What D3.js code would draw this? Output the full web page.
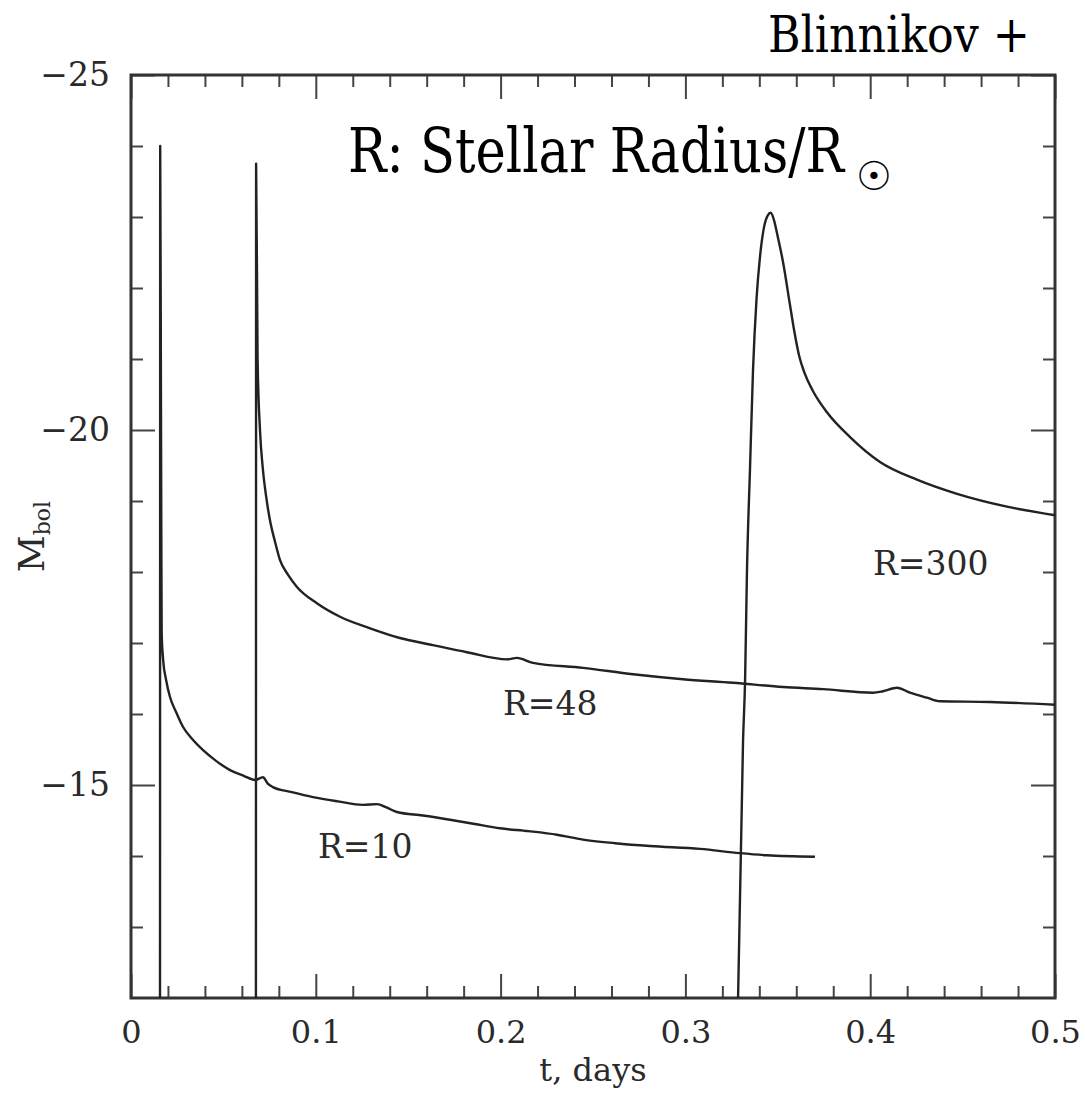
<!DOCTYPE html>
<html>
<head>
<meta charset="utf-8">
<script src="https://cdn.jsdelivr.net/npm/d3@7"></script>
<style>
  html, body { margin: 0; padding: 0; background: #fff; }
  svg { display: block; }
</style>
</head>
<body>
<svg id="chart" width="1085" height="1094"></svg>
<script>
// ---- Data (t in days, M_bol) ----
const seriesR10 = [
  [0.0157, -12.0], [0.0158, -24.0], [0.0162, -20.5], [0.0164, -18.6],
  [0.0166, -17.14], [0.0174, -16.76], [0.0190, -16.48], [0.0211, -16.24],
  [0.0245, -16.02], [0.0281, -15.82], [0.0330, -15.65], [0.0390, -15.49],
  [0.0460, -15.34], [0.0536, -15.21], [0.0610, -15.13], [0.0671, -15.07],
  [0.0714, -15.11], [0.0740, -15.02], [0.0768, -14.97], [0.0870, -14.90],
  [0.0985, -14.83], [0.1120, -14.77], [0.1255, -14.72], [0.1331, -14.73],
  [0.1385, -14.68], [0.1439, -14.62], [0.1580, -14.57], [0.1726, -14.51],
  [0.1860, -14.45], [0.1997, -14.39], [0.2150, -14.35], [0.2305, -14.30],
  [0.2446, -14.23], [0.2620, -14.18], [0.2808, -14.14], [0.3079, -14.10],
  [0.3295, -14.04], [0.3442, -14.01], [0.3701, -13.99]
];
const seriesR48 = [
  [0.0676, -12.0], [0.0677, -23.75], [0.0685, -21.0], [0.0698, -20.0],
  [0.0714, -19.44], [0.0732, -19.05], [0.0752, -18.73], [0.0780, -18.42],
  [0.0806, -18.17], [0.0850, -17.96], [0.0898, -17.79], [0.1006, -17.56],
  [0.1131, -17.37], [0.1290, -17.21], [0.1455, -17.07], [0.1634, -16.97],
  [0.1818, -16.87], [0.2035, -16.77], [0.2089, -16.79], [0.2175, -16.72],
  [0.2446, -16.65], [0.2717, -16.56], [0.2987, -16.49], [0.3258, -16.44],
  [0.3528, -16.38], [0.3745, -16.35], [0.4015, -16.30], [0.4069, -16.32],
  [0.4145, -16.37], [0.4215, -16.30], [0.4307, -16.23], [0.4378, -16.18],
  [0.4648, -16.17], [0.5000, -16.13]
];
const seriesR300 = [
  [0.3285, -12.0], [0.3312, -15.63], [0.3323, -16.48], [0.3333, -17.99],
  [0.3350, -19.49], [0.3366, -20.85], [0.3385, -21.85], [0.3404, -22.45],
  [0.3425, -22.85], [0.3445, -23.02], [0.3462, -23.06], [0.3480, -22.95],
  [0.3500, -22.72], [0.3528, -22.37], [0.3566, -21.76], [0.3590, -21.38],
  [0.3615, -21.05], [0.3645, -20.80], [0.3690, -20.55], [0.3766, -20.25],
  [0.3891, -19.90], [0.4053, -19.55], [0.4253, -19.30], [0.4470, -19.10],
  [0.4740, -18.92], [0.5000, -18.80]
];
const curveLabels = ["R=10", "R=48", "R=300"];
const labelPos = [[0.1012, -13.97], [0.2013, -15.99], [0.4015, -17.96]];

const xMajorTicks = [0, 0.1, 0.2, 0.3, 0.4, 0.5];
const xTickLabels = ["0", "0.1", "0.2", "0.3", "0.4", "0.5"];
const xMinorTicks = [0.02,0.04,0.06,0.08,0.12,0.14,0.16,0.18,0.22,0.24,0.26,0.28,0.32,0.34,0.36,0.38,0.42,0.44,0.46,0.48];
const yMajorTicks = [-25, -20, -15];
const yTickLabels = ["\u221225", "\u221220", "\u221215"];
const yMinorTicks = [-24,-23,-22,-21,-19,-18,-17,-16,-14,-13];

const titleText = "R: Stellar Radius/R";
const titleSub = "\u2609";
const creditText = "Blinnikov +";
const xTitle = "t, days";
const yTitleMain = "M";
const yTitleSub = "bol";

// ---- Layout ----
const svg = d3.select("#chart");
const L = 131, R = 1055, T = 75, B = 998;
const x = d3.scaleLinear().domain([0, 0.5]).range([L, R]);
const y = d3.scaleLinear().domain([-12, -25]).range([B, T]);

const axisFont = "'DejaVu Serif', serif";
const ink = "#2a2a2a";

// Bottom axis (major with labels)
const gB = svg.append("g").attr("transform", `translate(0,${B})`)
  .call(d3.axisBottom(x).tickValues(xMajorTicks).tickSize(-24).tickPadding(22)
    .tickFormat((d, i) => xTickLabels[i]));
gB.select(".domain").remove();
gB.selectAll("text").attr("font-family", axisFont).attr("font-size", 32).attr("fill", ink);
svg.append("g").attr("transform", `translate(0,${B})`)
  .call(d3.axisBottom(x).tickValues(xMinorTicks).tickSize(-12).tickFormat(""))
  .select(".domain").remove();

// Top axis ticks
const gT = svg.append("g").attr("transform", `translate(0,${T})`)
  .call(d3.axisTop(x).tickValues(xMajorTicks).tickSize(-24).tickFormat(""));
gT.select(".domain").remove();
svg.append("g").attr("transform", `translate(0,${T})`)
  .call(d3.axisTop(x).tickValues(xMinorTicks).tickSize(-12).tickFormat(""))
  .select(".domain").remove();

// Left axis
const gL = svg.append("g").attr("transform", `translate(${L},0)`)
  .call(d3.axisLeft(y).tickValues(yMajorTicks).tickSize(-24).tickPadding(21)
    .tickFormat((d, i) => yTickLabels[i]));
gL.select(".domain").remove();
gL.selectAll("text").attr("font-family", axisFont).attr("font-size", 33).attr("fill", ink);
svg.append("g").attr("transform", `translate(${L},0)`)
  .call(d3.axisLeft(y).tickValues(yMinorTicks).tickSize(-12).tickFormat(""))
  .select(".domain").remove();

// Right axis ticks
svg.append("g").attr("transform", `translate(${R},0)`)
  .call(d3.axisRight(y).tickValues(yMajorTicks).tickSize(-24).tickFormat(""))
  .select(".domain").remove();
svg.append("g").attr("transform", `translate(${R},0)`)
  .call(d3.axisRight(y).tickValues(yMinorTicks).tickSize(-12).tickFormat(""))
  .select(".domain").remove();

svg.selectAll(".tick line").attr("stroke", "#444").attr("stroke-width", 2);

// Frame
svg.append("rect").attr("x", L).attr("y", T).attr("width", R - L).attr("height", B - T)
  .attr("fill", "none").attr("stroke", "#333").attr("stroke-width", 3);

// Curves
const line = d3.line().x(d => x(d[0])).y(d => y(d[1])).curve(d3.curveMonotoneX);
[seriesR10, seriesR48, seriesR300].forEach(s => {
  svg.append("path").datum(s).attr("d", line)
    .attr("fill", "none").attr("stroke", "#222").attr("stroke-width", 2.4)
    .attr("stroke-linejoin", "round");
});

// Curve labels
curveLabels.forEach((t, i) => {
  svg.append("text").attr("x", x(labelPos[i][0])).attr("y", y(labelPos[i][1]))
    .attr("font-family", axisFont).attr("font-size", 33).attr("fill", ink).text(t);
});

// Axis titles
svg.append("text").attr("x", (L + R) / 2).attr("y", 1081).attr("text-anchor", "middle")
  .attr("font-family", axisFont).attr("font-size", 32).attr("fill", ink).text(xTitle);

const yt = svg.append("text").attr("transform", `translate(44,${(T + B) / 2}) rotate(-90)`)
  .attr("text-anchor", "middle").attr("font-family", axisFont).attr("fill", ink);
yt.append("tspan").attr("font-size", 36).text(yTitleMain);
yt.append("tspan").attr("font-size", 22).attr("dy", 6).text(yTitleSub);

// Title (single text element with subscript) and credit
const serifFont = "DejaVu Serif";
const tt = svg.append("text").attr("x", 348).attr("y", 172)
  .attr("font-family", serifFont).attr("font-size", 62).attr("fill", "#000");
tt.append("tspan").attr("textLength", 496).attr("lengthAdjust", "spacingAndGlyphs")
  .text(titleText);
tt.append("tspan").attr("font-family", "DejaVu Sans").attr("font-size", 40)
  .attr("dx", 12).attr("dy", 18).text(titleSub);

svg.append("text").attr("x", 768).attr("y", 52)
  .attr("font-family", serifFont).attr("font-size", 50).attr("fill", "#000")
  .attr("textLength", 262).attr("lengthAdjust", "spacingAndGlyphs")
  .text(creditText);
</script>
</body>
</html>
